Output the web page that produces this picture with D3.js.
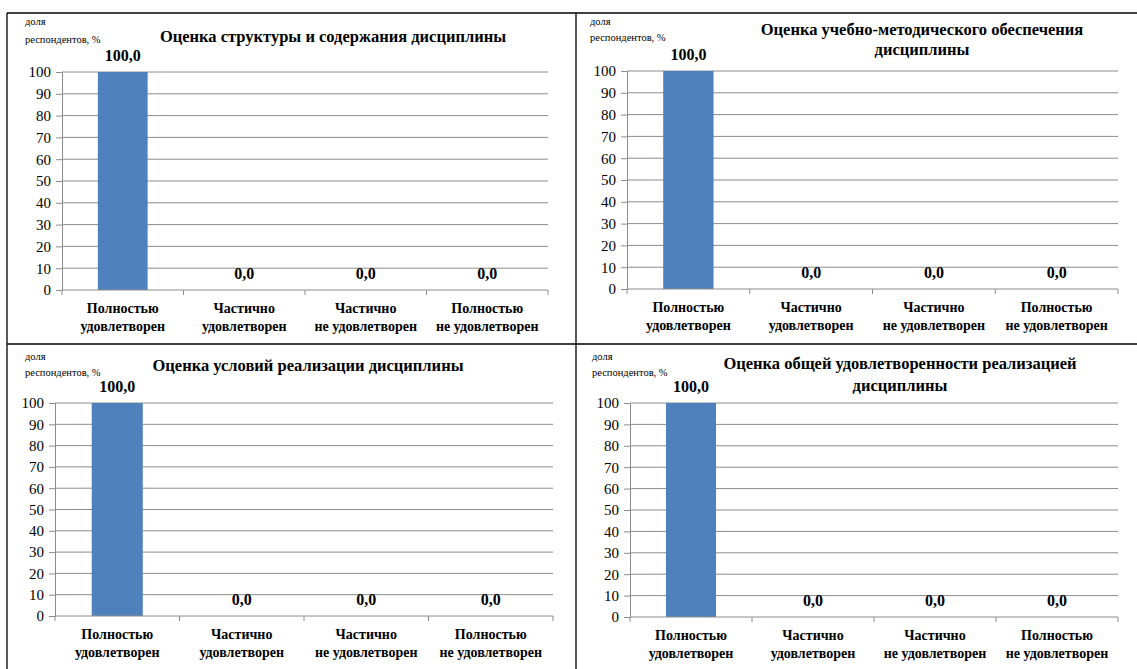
<!DOCTYPE html>
<html>
<head>
<meta charset="utf-8">
<script src="https://cdn.jsdelivr.net/npm/d3@7/dist/d3.min.js"></script>
<style>
  html, body { margin: 0; padding: 0; background: #fff; }
  svg { display: block; }
  svg text { font-family: 'Liberation Serif', 'Times New Roman', 'DejaVu Serif', serif !important; fill: #000; }
</style>
</head>
<body>
<svg id="chart" width="1137" height="669"></svg>
<script>
// ---- Data ----
const categories = [
  ["Полностью", "удовлетворен"],
  ["Частично", "удовлетворен"],
  ["Частично", "не удовлетворен"],
  ["Полностью", "не удовлетворен"]
];
const valuesStructure = [100, 0, 0, 0];
const valuesMethodical = [100, 0, 0, 0];
const valuesConditions = [100, 0, 0, 0];
const valuesOverall = [100, 0, 0, 0];
const titleStructure = ["Оценка структуры и содержания дисциплины"];
const titleMethodical = ["Оценка учебно-методического обеспечения", "дисциплины"];
const titleConditions = ["Оценка условий реализации дисциплины"];
const titleOverall = ["Оценка общей удовлетворенности реализацией", "дисциплины"];
const yTicks = [0, 10, 20, 30, 40, 50, 60, 70, 80, 90, 100];
const yLabel = ["доля", "респондентов, %"];

// ---- Layout ----
const FONT = "'Liberation Serif', 'Times New Roman', 'DejaVu Serif', serif";
const svg = d3.select("#chart").attr("font-family", FONT);
const panels = [
  { values: valuesStructure, title: titleStructure, left: 62, right: 548, top: 72, bottom: 290,
    titleX: 333, titleY: [42], ylX: 25, ylY: [25, 43] },
  { values: valuesMethodical, title: titleMethodical, left: 627, right: 1118, top: 71, bottom: 289,
    titleX: 922, titleY: [35, 55], ylX: 590, ylY: [25, 41] },
  { values: valuesConditions, title: titleConditions, left: 55, right: 553, top: 403, bottom: 616,
    titleX: 308, titleY: [371], ylX: 25, ylY: [360, 376] },
  { values: valuesOverall, title: titleOverall, left: 630, right: 1118, top: 403, bottom: 617,
    titleX: 900, titleY: [369, 391], ylX: 592, ylY: [360, 376] }
];

// table borders
const border = svg.append("g").attr("stroke", "#000").attr("stroke-width", 1.3).attr("fill", "none");
border.append("line").attr("x1", 7).attr("x2", 1137).attr("y1", 13).attr("y2", 13);
border.append("line").attr("x1", 7).attr("x2", 7).attr("y1", 13).attr("y2", 669);
border.append("line").attr("x1", 576).attr("x2", 576).attr("y1", 13).attr("y2", 669);
border.append("line").attr("x1", 7).attr("x2", 1137).attr("y1", 344).attr("y2", 344);

panels.forEach(p => {
  const g = svg.append("g");
  const x = d3.scaleBand().domain(d3.range(categories.length)).range([p.left, p.right]).paddingInner(0).paddingOuter(0);
  const y = d3.scaleLinear().domain([0, 100]).range([p.bottom, p.top]);

  // gridlines
  g.append("g").selectAll("line").data(yTicks.filter(t => t > 0)).join("line")
    .attr("x1", p.left).attr("x2", p.right)
    .attr("y1", d => y(d)).attr("y2", d => y(d))
    .attr("stroke", "#8c8c8c").attr("stroke-width", 1);

  // y axis
  const yAxis = g.append("g").attr("transform", `translate(${p.left},0)`)
    .call(d3.axisLeft(y).tickValues(yTicks).tickSize(6).tickPadding(5).tickFormat(d3.format("d")));
  yAxis.attr("font-family", FONT);
  yAxis.select(".domain").attr("stroke", "#8c8c8c");
  yAxis.selectAll(".tick line").attr("stroke", "#8c8c8c");
  yAxis.selectAll(".tick text").style("font-size", "15px").attr("fill", "#000");

  // bars
  const barW = x.bandwidth() * 0.41;
  g.append("g").selectAll("rect").data(p.values).join("rect")
    .attr("x", (d, i) => x(i) + (x.bandwidth() - barW) / 2)
    .attr("width", barW)
    .attr("y", d => y(d))
    .attr("height", d => y(0) - y(d))
    .attr("fill", "#4f81bd");

  // x axis
  const xAxis = g.append("g").attr("transform", `translate(0,${p.bottom})`);
  xAxis.append("line").attr("x1", p.left).attr("x2", p.right).attr("y1", 0).attr("y2", 0).attr("stroke", "#8c8c8c");
  xAxis.selectAll("line.tk").data(d3.range(categories.length + 1)).join("line").attr("class", "tk")
    .attr("x1", i => p.left + i * x.bandwidth()).attr("x2", i => p.left + i * x.bandwidth())
    .attr("y1", 0).attr("y2", 5).attr("stroke", "#8c8c8c");
  const lbl = xAxis.selectAll("text.cat").data(categories).join("text").attr("class", "cat")
    .attr("text-anchor", "middle").style("font-size", "14px").style("font-weight", "bold");
  lbl.each(function(d, i) {
    const t = d3.select(this);
    d.forEach((line, k) => {
      t.append("tspan").attr("x", x(i) + x.bandwidth() / 2).attr("y", 23 + k * 18).text(line);
    });
  });

  // value labels
  g.append("g").selectAll("text").data(p.values).join("text")
    .attr("x", (d, i) => x(i) + x.bandwidth() / 2)
    .attr("y", d => y(d) - 11)
    .attr("text-anchor", "middle")
    .style("font-size", "16px").style("font-weight", "bold")
    .text(d => d3.format(".1f")(d).replace(".", ","));

  // title
  g.append("g").selectAll("text").data(p.title).join("text")
    .attr("x", p.titleX).attr("y", (d, i) => p.titleY[i])
    .attr("text-anchor", "middle")
    .style("font-size", "16.5px").style("font-weight", "bold")
    .text(d => d);

  // y label
  g.append("g").selectAll("text").data(yLabel).join("text")
    .attr("x", p.ylX).attr("y", (d, i) => p.ylY[i])
    .style("font-size", "10.5px")
    .text(d => d);
});
</script>
</body>
</html>
